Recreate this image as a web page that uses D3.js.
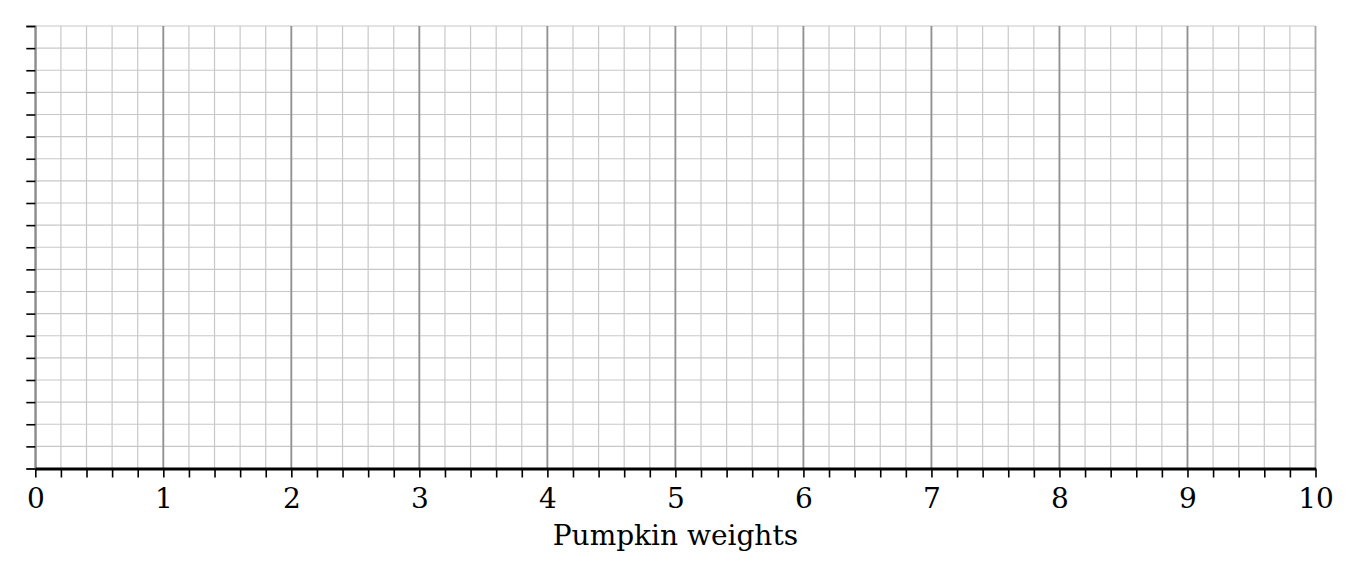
<!DOCTYPE html>
<html>
<head>
<meta charset="utf-8">
<script src="https://cdn.jsdelivr.net/npm/d3@7"></script>
<style>
  body { margin: 0; background: #fff; }
  text { font-family: "DejaVu Serif", serif; }
</style>
</head>
<body>
<figure id="numberLine" style="margin:0"></figure>
<script>
// x range and ticks of the number line
var xDomain = [0, 10];
var majorTicks = [0, 1, 2, 3, 4, 5, 6, 7, 8, 9, 10];
var minorStep = 0.2;
// empty plot: y only carries a grid of 20 rows
var yDomain = [0, 20];
var axisTitle = "Pumpkin weights";

function numberLine() {
    // set the dimensions and margins of the graph
    var margin = {top: 26, right: 44.5, bottom: 109.5, left: 35.3},
    width = 1360 - margin.left - margin.right,
    height = 578 - margin.top - margin.bottom;

    var svg = d3.select("figure#numberLine")
        .append("svg")
        .attr("width", 1360)
        .attr("height", 578)
        .append("g")
        .attr("transform", "translate(" + margin.left + "," + margin.top + ")");

    var x = d3.scaleLinear().domain(xDomain).range([0, width]);
    var y = d3.scaleLinear().domain(yDomain).range([height, 0]);

    var nMinor = Math.round((xDomain[1] - xDomain[0]) / minorStep);
    var minorTicks = d3.range(nMinor + 1).map(function(i) { return +(xDomain[0] + i * minorStep).toFixed(2); });
    var yLines = d3.range(yDomain[0], yDomain[1] + 1);

    // minor grid
    svg.append("g")
        .selectAll("line.vmin")
        .data(minorTicks)
        .enter().append("line")
        .attr("x1", function(d) { return x(d); })
        .attr("x2", function(d) { return x(d); })
        .attr("y1", 0).attr("y2", height)
        .attr("stroke", "#c8c8c8").attr("stroke-width", 1.2);

    svg.append("g")
        .selectAll("line")
        .data(yLines)
        .enter().append("line")
        .attr("x1", 0).attr("x2", width)
        .attr("y1", function(d) { return y(d); })
        .attr("y2", function(d) { return y(d); })
        .attr("stroke", "#c8c8c8").attr("stroke-width", 1.2);

    // major grid
    svg.append("g")
        .selectAll("line")
        .data(majorTicks)
        .enter().append("line")
        .attr("x1", function(d) { return x(d); })
        .attr("x2", function(d) { return x(d); })
        .attr("y1", 0).attr("y2", height)
        .attr("stroke", function(d) { return d === xDomain[1] ? "#a8a8a8" : "#919191"; })
        .attr("stroke-width", 1.8);

    // y axis: ticks only, no labels
    var yAxis = svg.append("g")
        .call(d3.axisLeft(y).tickValues(yLines).tickSize(9).tickFormat(""));
    yAxis.select(".domain").attr("stroke", "#8c8c8c").attr("stroke-width", 1.8);
    yAxis.selectAll(".tick line").attr("stroke", "#000").attr("stroke-width", 1.6);

    // x axis with minor ticks
    var xAxis = svg.append("g")
        .attr("transform", "translate(0," + height + ")")
        .call(d3.axisBottom(x).tickValues(minorTicks).tickSize(9).tickSizeOuter(0)
            .tickFormat(function(d) { return majorTicks.indexOf(d) >= 0 ? d : ""; }));
    xAxis.select(".domain").attr("stroke", "#000").attr("stroke-width", 3);
    xAxis.selectAll(".tick line").attr("stroke", "#000").attr("stroke-width", 1.6);
    xAxis.selectAll(".tick text")
        .attr("y", 20)
        .attr("font-family", "DejaVu Serif")
        .attr("font-size", 28)
        .attr("fill", "#000");

    // axis title
    svg.append("text")
        .attr("x", width / 2)
        .attr("y", height + 76)
        .attr("text-anchor", "middle")
        .attr("font-size", 28)
        .attr("fill", "#000")
        .text(axisTitle);
}
numberLine();
</script>
</body>
</html>
